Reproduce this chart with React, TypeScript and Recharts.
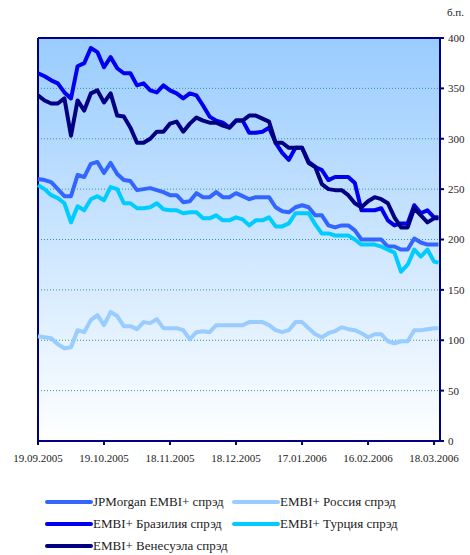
import { LineChart, Line, XAxis, YAxis, CartesianGrid, ReferenceLine } from "recharts";

// days since 19.09.2005
const days = [
  0, 3, 6, 9, 12, 15, 18, 21, 24, 27, 30, 33, 36, 39, 42, 45, 48, 51, 54, 57,
  60, 63, 66, 69, 72, 75, 78, 81, 84, 87, 90, 93, 96, 99, 102, 105, 108, 111, 114, 117,
  120, 123, 126, 129, 132, 135, 138, 141, 144, 147, 150, 153, 156, 159, 162, 165, 168, 171, 174, 177,
  180, 182,
];

const jpm = [
  260, 259, 257, 250, 243, 243, 264, 262, 275, 277,
  266, 276, 265, 259, 258, 249, 250, 251, 249, 247,
  244, 244, 237, 238, 246, 242, 242, 247, 242, 242,
  246, 243, 240, 242, 242, 242, 232, 228, 227, 232,
  234, 232, 224, 224, 214, 212, 214, 214, 209, 200,
  200, 200, 200, 193, 193, 190, 190, 201, 197, 195,
  195, 195,
];

const russia = [
  104, 103, 102, 96, 92, 93, 110, 108, 120, 125,
  115, 128, 124, 114, 114, 111, 118, 117, 121, 112,
  112, 112, 110, 101, 108, 109, 108, 115, 115, 115,
  115, 115, 118, 118, 118, 115, 110, 108, 110, 118,
  118, 112, 106, 103, 107, 109, 113, 111, 110, 107,
  103, 106, 106, 99, 97, 99, 99, 110, 110, 111,
  112, 112,
];

const brazil = [
  365, 362, 358, 355, 346, 340, 372, 375, 390, 386,
  371, 381, 370, 365, 365, 353, 355, 348, 346, 353,
  348, 345, 340, 345, 343, 333, 322, 318, 316, 311,
  318, 318, 306, 306, 307, 311, 296, 286, 279, 291,
  291, 277, 272, 269, 259, 262, 262, 262, 256, 229,
  229, 229, 231, 219, 214, 216, 216, 234, 226, 229,
  222, 222,
];

const turkey = [
  254, 250, 244, 241, 236, 217, 233, 229, 240, 243,
  239, 252, 250, 236, 236, 231, 231, 232, 236, 230,
  229, 229, 226, 227, 227, 221, 221, 224, 219, 219,
  222, 220, 214, 219, 219, 222, 213, 213, 216, 226,
  226, 226, 215, 206, 206, 204, 204, 204, 200, 195,
  195, 195, 193, 190, 187, 168, 175, 190, 183, 190,
  178, 177,
];

const venezuela = [
  343, 338, 335, 335, 340, 303, 338, 328, 345, 348,
  336, 345, 323, 322, 311, 296, 296, 300, 307, 307,
  315, 317, 307, 315, 321, 318, 316, 316, 313, 311,
  318, 318, 323, 323, 320, 317, 296, 296, 291, 291,
  291, 276, 272, 255, 250, 249, 249, 244, 236, 232,
  238, 242, 240, 236, 222, 212, 212, 231, 224, 217,
  221, 221,
];

const tickDays = [0, 30, 60, 90, 120, 150, 180];
const tickLabels = ["19.09.2005", "19.10.2005", "18.11.2005", "18.12.2005", "17.01.2006", "16.02.2006", "18.03.2006"];
const yTicks = [0, 50, 100, 150, 200, 250, 300, 350, 400];

const series = [
  { key: "jpm", name: "JPMorgan EMBI+ спрэд", color: "#3366FF" },
  { key: "russia", name: "EMBI+ Россия спрэд", color: "#99CCFF" },
  { key: "brazil", name: "EMBI+ Бразилия спрэд", color: "#0000EE" },
  { key: "turkey", name: "EMBI+ Турция спрэд", color: "#00CCFF" },
  { key: "venezuela", name: "EMBI+ Венесуэла спрэд", color: "#000080" },
];

const data = days.map((d, i) => ({
  day: d,
  jpm: jpm[i],
  russia: russia[i],
  brazil: brazil[i],
  turkey: turkey[i],
  venezuela: venezuela[i],
}));

const font = "Liberation Serif";
const navy = "#000080";

export default function App() {
  return (
    <div style={{ position: "absolute", left: 0, top: 0, width: 470, height: 555, background: "#fff", fontFamily: font, overflow: "hidden" }}>
      <div style={{ position: "absolute", left: 447, top: 6, fontSize: 11, color: "#222" }}>б.п.</div>
      <LineChart width={470} height={470} data={data} margin={{ top: 38, right: 0, left: 38, bottom: 0 }} style={{ fontFamily: font }}>
        <defs>
          <linearGradient id="plotBg" x1="0" y1="0" x2="0" y2="1">
            <stop offset="0%" stopColor="#99CCFF" />
            <stop offset="100%" stopColor="#FFFFFF" />
          </linearGradient>
        </defs>
        <CartesianGrid
          vertical={false}
          fill="url(#plotBg)"
          fillOpacity={1}
          stroke="#2F9595"
          strokeDasharray="1 2"
        />
        <XAxis
          dataKey="day"
          type="number"
          domain={[0, 182.7]}
          ticks={tickDays}
          tickFormatter={(v) => tickLabels[tickDays.indexOf(v)] ?? ""}
          height={29}
          stroke={navy}
          strokeWidth={2}
          tickSize={4}
          tickMargin={9}
          tick={{ fill: "#222", fontSize: 11, fontFamily: font }}
          interval={0}
        />
        <YAxis
          orientation="right"
          domain={[0, 400]}
          ticks={yTicks}
          width={30}
          stroke={navy}
          strokeWidth={2}
          tickSize={4}
          tickMargin={4}
          tick={{ fill: "#222", fontSize: 11, fontFamily: font, textAnchor: "start" }}
          interval={0}
        />
        <ReferenceLine x={0} stroke={navy} strokeWidth={2} />
        <ReferenceLine y={400} stroke={navy} strokeWidth={2} />
        {series.map((s) => (
          <Line
            key={s.key}
            dataKey={s.key}
            name={s.name}
            stroke={s.color}
            strokeWidth={4}
            dot={false}
            type="linear"
            strokeLinejoin="round"
            isAnimationActive={false}
          />
        ))}
      </LineChart>
      {series.map((s, i) => {
        const col = i % 2;
        const row = Math.floor(i / 2);
        return (
          <div
            key={s.key}
            style={{
              position: "absolute",
              left: col === 0 ? 45 : 232,
              top: 494 + row * 22,
              display: "flex",
              alignItems: "center",
              fontSize: 13,
              color: "#222",
              whiteSpace: "nowrap",
            }}
          >
            <div style={{ width: 48, height: 4, borderRadius: 2, background: s.color }} />
            <span>{s.name}</span>
          </div>
        );
      })}
    </div>
  );
}
